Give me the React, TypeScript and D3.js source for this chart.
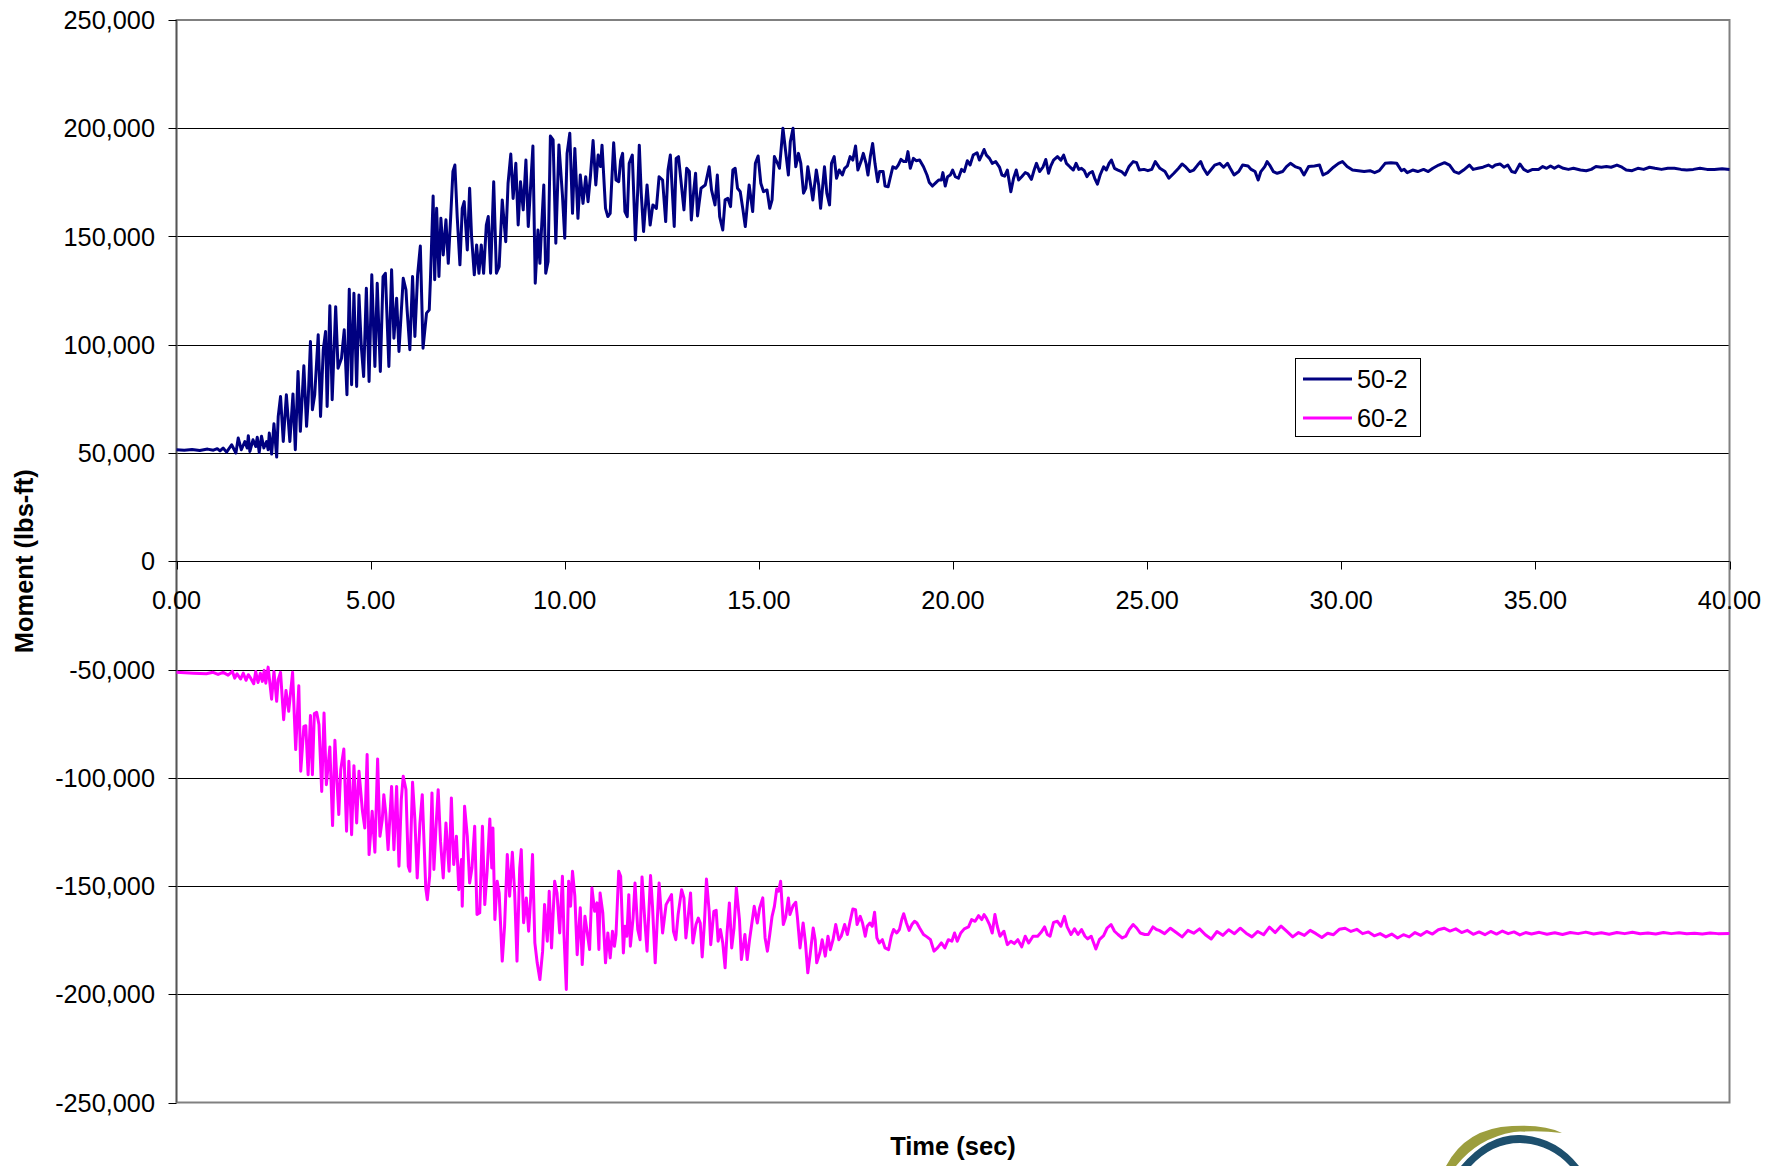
import React from "react";
import * as d3 from "d3";

// Time axis ticks (sec) and moment axis ticks (lbs-ft)
const xTicks: number[] = [0, 5, 10, 15, 20, 25, 30, 35, 40];
const yTicks: number[] = [-250000, -200000, -150000, -100000, -50000, 0, 50000, 100000, 150000, 200000, 250000];

const seriesNames: string[] = ["50-2", "60-2"];
const seriesColors: string[] = ["#000080", "#FF00FF"];

// [time (sec), moment (kip-ft)]
const points50: [number, number][] = [
  [0, 51.5], [0.2, 51.3], [0.4, 51.6], [0.6, 51.2], [0.8, 51.8], [0.95, 51.3], [1.05, 52.0], [1.12, 51.0],
  [1.2, 52.3], [1.29, 50.4], [1.42, 53.8], [1.53, 50.0], [1.59, 56.9], [1.67, 51.5], [1.76, 55.3], [1.82, 52.3],
  [1.85, 58.0], [1.89, 50.7], [1.97, 56.1], [2.04, 53.0], [2.08, 57.3], [2.13, 50.3], [2.19, 57.7], [2.25, 52.3],
  [2.32, 55.3], [2.36, 51.5], [2.39, 59.2], [2.45, 49.5], [2.51, 63.5], [2.58, 48.1], [2.62, 66.9], [2.68, 76.1],
  [2.75, 55.3], [2.83, 76.9], [2.92, 55.3], [3.0, 77.3], [3.06, 51.5], [3.13, 87.6], [3.19, 60.0], [3.28, 90.3],
  [3.35, 62.3], [3.39, 73.8], [3.45, 101.5], [3.5, 70.0], [3.56, 76.9], [3.65, 104.6], [3.71, 66.9], [3.78, 97.7],
  [3.84, 106.1], [3.88, 71.5], [3.95, 118.0], [4.01, 74.6], [4.1, 117.6], [4.16, 89.2], [4.25, 93.8], [4.32, 106.9],
  [4.39, 76.9], [4.45, 125.6], [4.51, 81.5], [4.57, 123.8], [4.64, 80.7], [4.7, 123.0], [4.76, 99.2], [4.82, 85.3],
  [4.89, 126.1], [4.96, 83.0], [5.03, 132.3], [5.11, 90.0], [5.17, 128.4], [5.25, 87.7], [5.32, 131.5], [5.38, 133.0],
  [5.47, 90.0], [5.54, 134.6], [5.6, 103.0], [5.67, 121.5], [5.73, 96.9], [5.84, 130.7], [5.91, 125.4], [5.94, 116.1],
  [6.01, 97.7], [6.08, 131.5], [6.14, 103.8], [6.21, 132.3], [6.28, 145.6], [6.35, 98.4], [6.44, 114.6], [6.51, 116.1],
  [6.54, 130.0], [6.61, 168.7], [6.65, 130.0], [6.7, 163.0], [6.76, 131.5], [6.81, 158.4], [6.87, 141.5], [6.94, 157.7],
  [7.0, 137.6], [7.06, 158.4], [7.12, 180.0], [7.17, 183.0], [7.23, 159.2], [7.3, 136.9], [7.36, 163.0], [7.41, 166.1],
  [7.49, 143.8], [7.55, 172.3], [7.6, 150.0], [7.67, 132.3], [7.73, 146.1], [7.79, 133.0], [7.85, 146.1], [7.91, 133.0],
  [7.98, 155.3], [8.03, 159.2], [8.09, 133.0], [8.17, 175.3], [8.24, 133.0], [8.31, 136.1], [8.39, 166.9], [8.48, 147.6],
  [8.54, 174.6], [8.61, 188.1], [8.67, 167.6], [8.74, 183.8], [8.8, 155.3], [8.86, 175.3], [8.93, 162.3], [9.0, 185.3],
  [9.06, 154.6], [9.12, 173.0], [9.18, 191.8], [9.24, 128.4], [9.31, 153.0], [9.36, 137.6], [9.4, 153.0], [9.46, 173.8],
  [9.51, 133.0], [9.57, 138.4], [9.63, 196.4], [9.7, 194.6], [9.77, 146.9], [9.85, 192.3], [9.94, 169.2], [10.0, 149.2],
  [10.06, 188.4], [10.13, 197.7], [10.2, 160.7], [10.26, 190.7], [10.34, 158.4], [10.4, 178.4], [10.47, 165.3], [10.54, 177.6],
  [10.6, 166.1], [10.66, 177.6], [10.73, 194.3], [10.8, 173.8], [10.86, 187.6], [10.92, 182.3],
  [10.96, 192.2], [11.05, 163.0], [11.11, 159.2], [11.17, 160.7], [11.26, 193.3], [11.32, 176.1], [11.39, 175.3], [11.44, 185.3],
  [11.49, 188.4], [11.55, 161.5], [11.61, 159.2], [11.66, 183.8], [11.74, 187.6], [11.82, 148.4], [11.88, 171.5], [11.92, 192.2],
  [11.97, 170.0], [12.03, 152.3], [12.12, 173.8], [12.2, 155.3], [12.27, 164.6], [12.36, 163.0], [12.43, 177.6], [12.52, 176.1],
  [12.6, 156.9], [12.66, 180.7], [12.72, 187.6], [12.82, 154.6], [12.87, 186.1], [12.93, 186.9], [13.07, 162.3], [13.14, 181.5],
  [13.21, 180.0], [13.26, 157.6], [13.32, 170.7], [13.37, 179.2], [13.42, 159.5], [13.51, 172.3], [13.62, 173.8], [13.72, 182.2],
  [13.78, 171.5], [13.87, 164.6], [13.93, 178.4], [13.99, 159.2], [14.07, 153.0], [14.13, 166.9], [14.2, 167.6], [14.27, 163.8],
  [14.33, 180.7], [14.39, 181.5], [14.45, 172.3], [14.52, 170.7], [14.59, 162.3], [14.65, 154.6], [14.75, 173.8], [14.84, 161.5],
  [14.91, 183.8], [14.98, 187.2], [15.05, 174.6], [15.12, 170.7], [15.21, 171.5], [15.28, 163.0], [15.34, 166.9], [15.4, 186.9],
  [15.48, 183.8], [15.53, 181.5], [15.62, 200.0], [15.69, 189.2], [15.76, 178.4], [15.81, 193.8], [15.88, 200.0], [15.95, 182.2],
  [16.02, 188.4], [16.08, 183.8], [16.15, 170.0], [16.21, 172.3], [16.26, 182.2], [16.34, 173.0], [16.39, 166.9], [16.48, 180.7],
  [16.54, 173.8], [16.59, 163.0], [16.69, 182.2], [16.75, 170.0], [16.82, 164.6], [16.87, 183.8], [16.94, 186.9], [17.0, 176.9],
  [17.07, 180.7], [17.15, 178.4], [17.21, 181.5], [17.28, 182.6], [17.35, 186.9], [17.42, 185.3], [17.49, 191.8], [17.55, 180.7],
  [17.63, 184.6], [17.69, 188.4], [17.76, 183.8], [17.81, 178.4], [17.87, 186.9], [17.93, 193.0], [17.99, 183.8], [18.06, 175.3],
  [18.11, 180.0], [18.2, 180.0], [18.25, 173.3], [18.33, 173.0], [18.38, 176.9], [18.45, 182.2], [18.53, 181.5], [18.59, 183.0],
  [18.66, 185.6], [18.73, 184.6], [18.79, 184.6], [18.84, 189.2], [18.9, 181.5], [18.98, 186.1], [19.05, 185.0], [19.14, 185.3],
  [19.24, 182.2], [19.33, 178.4], [19.39, 174.9], [19.47, 173.3], [19.56, 174.9], [19.63, 176.1], [19.7, 176.1], [19.74, 179.5],
  [19.8, 173.3], [19.86, 177.6], [19.93, 178.4], [19.99, 180.7], [20.06, 177.6], [20.14, 176.9], [20.22, 181.0], [20.29, 180.0],
  [20.37, 185.0], [20.44, 183.0], [20.52, 187.6], [20.62, 188.7], [20.68, 185.3], [20.74, 187.6], [20.8, 190.2], [20.86, 187.6],
  [20.94, 186.1], [21.01, 183.8], [21.1, 184.6], [21.2, 181.9], [21.26, 178.4], [21.33, 177.9], [21.4, 180.7], [21.49, 170.7],
  [21.56, 176.9], [21.63, 180.7], [21.69, 176.1], [21.77, 177.6], [21.86, 179.5], [21.93, 178.9], [22.02, 176.4], [22.09, 180.7],
  [22.15, 183.8], [22.23, 180.0], [22.32, 182.2], [22.39, 185.6], [22.46, 179.2], [22.52, 182.6], [22.59, 185.3], [22.69, 186.9],
  [22.78, 185.3], [22.85, 187.6], [22.92, 183.8], [23.01, 182.2], [23.1, 180.7], [23.17, 183.8], [23.24, 181.0], [23.31, 181.5],
  [23.38, 180.4], [23.45, 177.6], [23.51, 179.2], [23.59, 180.0], [23.65, 176.9], [23.72, 174.2], [23.79, 178.4], [23.88, 182.2],
  [23.95, 180.7], [24.02, 183.8], [24.08, 185.3], [24.16, 181.5], [24.25, 180.7], [24.34, 180.0], [24.43, 178.4], [24.53, 182.2],
  [24.64, 184.6], [24.73, 184.1], [24.8, 180.7],
  [24.92, 181.0], [25.02, 180.4], [25.12, 181.0], [25.21, 184.6], [25.33, 181.5], [25.46, 180.0], [25.56, 176.9], [25.69, 179.2],
  [25.81, 181.5], [25.9, 183.5], [26.0, 182.0], [26.1, 180.0], [26.2, 180.7], [26.3, 183.0], [26.38, 184.6], [26.45, 181.5],
  [26.55, 178.7], [26.64, 180.7], [26.74, 183.0], [26.87, 183.8], [26.97, 182.0], [27.07, 183.8], [27.14, 181.5], [27.24, 178.4],
  [27.36, 180.0], [27.46, 183.0], [27.6, 182.6], [27.68, 181.0], [27.78, 180.0], [27.86, 176.1], [27.93, 180.0], [28.03, 182.3],
  [28.09, 184.6], [28.17, 182.6], [28.25, 180.0], [28.35, 179.2], [28.49, 180.0], [28.59, 182.3], [28.69, 183.8], [28.81, 182.3],
  [28.94, 181.5], [29.04, 178.4], [29.16, 182.3], [29.31, 182.6], [29.44, 183.0], [29.53, 178.4], [29.65, 179.5], [29.8, 182.0],
  [29.93, 183.8], [30.03, 184.6], [30.15, 182.3], [30.29, 180.7], [30.44, 180.4], [30.59, 180.0], [30.74, 180.4], [30.86, 179.5],
  [30.98, 180.4], [31.13, 183.8], [31.28, 184.1], [31.43, 183.8], [31.55, 180.4], [31.62, 181.0], [31.7, 179.5], [31.84, 180.7],
  [31.97, 180.0], [32.12, 181.0], [32.24, 180.0], [32.36, 181.5], [32.51, 183.0], [32.66, 184.1], [32.79, 183.0], [32.91, 180.0],
  [33.03, 179.2], [33.15, 180.7], [33.3, 183.0], [33.4, 181.0], [33.52, 181.5], [33.65, 182.0], [33.79, 183.0], [33.89, 182.0],
  [33.97, 183.0], [34.09, 183.5], [34.19, 182.0], [34.29, 183.0], [34.39, 180.0], [34.48, 179.5], [34.6, 183.5], [34.7, 181.0],
  [34.8, 180.0], [34.93, 181.0], [35.08, 181.0], [35.19, 182.3], [35.29, 181.5], [35.39, 182.6], [35.49, 181.5], [35.59, 182.6],
  [35.72, 181.5], [35.85, 181.0], [35.98, 181.5], [36.16, 180.7], [36.31, 180.4], [36.44, 181.0], [36.56, 182.3], [36.7, 182.0],
  [36.83, 182.3], [36.95, 182.0], [37.1, 183.0], [37.23, 182.0], [37.34, 180.7], [37.49, 180.4], [37.64, 181.5], [37.79, 181.0],
  [37.94, 182.0], [38.08, 181.5], [38.25, 181.0], [38.41, 181.5], [38.58, 181.5], [38.75, 181.0], [38.9, 180.7], [39.07, 181.0],
  [39.24, 181.5], [39.42, 181.0], [39.61, 181.0], [39.81, 181.3], [40.0, 181.0],
];

const points60: [number, number][] = [
  [0, -51.3], [0.43, -51.7], [0.77, -52.0], [0.94, -51.3], [1.07, -52.3], [1.2, -51.3], [1.33, -52.6], [1.44, -50.9],
  [1.5, -54.0], [1.56, -52.0], [1.65, -54.4], [1.72, -51.7], [1.79, -55.0], [1.85, -52.4], [1.91, -54.0], [1.99, -56.6],
  [2.04, -50.9], [2.1, -56.0], [2.16, -51.7], [2.21, -55.5], [2.26, -50.4], [2.3, -56.3], [2.36, -48.9], [2.45, -63.7],
  [2.51, -50.9], [2.58, -64.7], [2.62, -54.7], [2.68, -51.3], [2.76, -73.2], [2.82, -59.7], [2.89, -69.3], [2.99, -51.3],
  [3.07, -87.0], [3.15, -57.5], [3.2, -97.0], [3.28, -76.3], [3.33, -76.0], [3.39, -98.6], [3.45, -71.3], [3.5, -98.6],
  [3.55, -70.4], [3.61, -69.8], [3.67, -75.5], [3.74, -106.3], [3.8, -70.1], [3.86, -103.2], [3.95, -85.8], [4.02, -122.1],
  [4.08, -82.7], [4.12, -97.0], [4.18, -117.0], [4.23, -96.3], [4.31, -86.7], [4.38, -124.7], [4.44, -92.4], [4.51, -126.3],
  [4.57, -94.4], [4.64, -120.9], [4.7, -97.0], [4.79, -115.5], [4.85, -123.2], [4.91, -89.3], [4.96, -135.5], [5.04, -115.5],
  [5.11, -134.4], [5.18, -91.3], [5.24, -127.0], [5.3, -119.3], [5.34, -107.8], [5.39, -116.3], [5.45, -133.2], [5.54, -104.0],
  [5.6, -133.2], [5.67, -104.0], [5.73, -140.9], [5.79, -110.1], [5.84, -99.3], [5.91, -105.5], [5.97, -140.9], [6.01, -143.2],
  [6.08, -102.1], [6.14, -119.3], [6.2, -146.3], [6.27, -120.9], [6.33, -107.8], [6.38, -131.7], [6.42, -150.9], [6.46, -156.3],
  [6.52, -145.5], [6.58, -107.0], [6.63, -142.4], [6.68, -124.0], [6.74, -105.5], [6.8, -129.3], [6.87, -146.3], [6.94, -120.9],
  [7.02, -143.2], [7.08, -109.3], [7.14, -140.1], [7.21, -127.0], [7.27, -151.7], [7.34, -137.8], [7.36, -159.3], [7.42, -113.2],
  [7.49, -127.0], [7.55, -148.6], [7.61, -141.7], [7.68, -122.4], [7.74, -163.2], [7.81, -162.4], [7.88, -122.4], [7.94, -158.6],
  [8.0, -143.2], [8.07, -119.0], [8.12, -141.7], [8.15, -123.2], [8.2, -165.5], [8.26, -147.8], [8.31, -153.2], [8.39, -184.7],
  [8.45, -168.6], [8.52, -135.5], [8.58, -154.7], [8.65, -134.4], [8.71, -153.2], [8.77, -184.7], [8.84, -141.7], [8.88, -133.2],
  [8.94, -167.0], [9.01, -155.5], [9.07, -170.9], [9.12, -156.3], [9.17, -135.5], [9.23, -176.3], [9.29, -185.5], [9.36, -193.2],
  [9.43, -180.1], [9.48, -158.6], [9.55, -175.5], [9.6, -152.4], [9.66, -178.6], [9.74, -147.8], [9.8, -153.2], [9.87, -171.7],
  [9.94, -145.5], [9.98, -172.4], [10.04, -197.8], [10.1, -147.8], [10.15, -159.3], [10.2, -143.2], [10.26, -154.7], [10.32, -181.7],
  [10.4, -160.1], [10.45, -186.3], [10.52, -164.0], [10.58, -171.7], [10.64, -179.3], [10.7, -150.9], [10.77, -161.7], [10.83, -157.8],
  [10.88, -179.3],
  [10.91, -153.2], [10.98, -162.4], [11.05, -185.5], [11.11, -171.7], [11.17, -183.2], [11.23, -170.9], [11.28, -177.8], [11.32, -172.4],
  [11.39, -143.2], [11.44, -145.5], [11.51, -180.9], [11.55, -168.6], [11.6, -173.2], [11.65, -154.0], [11.69, -177.8], [11.76, -164.8],
  [11.81, -148.6], [11.88, -170.1], [11.94, -174.8], [11.99, -145.8], [12.06, -165.5], [12.12, -180.1], [12.21, -145.2], [12.26, -159.4],
  [12.33, -185.5], [12.43, -148.6], [12.52, -171.7], [12.61, -158.6], [12.69, -156.0], [12.75, -154.0], [12.8, -170.9], [12.86, -174.8],
  [12.92, -163.2], [13.01, -151.7], [13.07, -155.5], [13.12, -174.0], [13.18, -164.0], [13.24, -153.2], [13.3, -176.3], [13.38, -167.8],
  [13.44, -164.8], [13.49, -167.1], [13.54, -182.8], [13.6, -166.3], [13.65, -146.8], [13.72, -161.7], [13.76, -177.1], [13.84, -161.7],
  [13.9, -161.2], [13.95, -175.5], [14.01, -170.1], [14.07, -176.3], [14.13, -187.8], [14.18, -171.7], [14.24, -157.8], [14.3, -178.6],
  [14.36, -169.4], [14.42, -150.9], [14.5, -165.5], [14.55, -184.0], [14.64, -172.4], [14.7, -184.0], [14.76, -174.8], [14.82, -167.1],
  [14.88, -159.4], [14.96, -167.1], [15.02, -160.1], [15.1, -155.5], [15.16, -174.0], [15.22, -180.1], [15.28, -172.4], [15.34, -164.0],
  [15.4, -159.4], [15.46, -151.4], [15.51, -152.4], [15.56, -147.8], [15.63, -167.8], [15.69, -164.3], [15.76, -155.5], [15.8, -163.2],
  [15.88, -159.1], [15.95, -157.5], [15.99, -164.0], [16.06, -178.6], [16.14, -167.1], [16.2, -176.3], [16.26, -190.1], [16.32, -181.7],
  [16.4, -169.4], [16.45, -174.8], [16.49, -185.5], [16.57, -180.9], [16.63, -174.8], [16.71, -182.4], [16.78, -173.2], [16.84, -179.4],
  [16.91, -174.8], [16.98, -167.8], [17.06, -174.8], [17.12, -173.2], [17.21, -167.8], [17.28, -172.4], [17.35, -166.3], [17.42, -160.6],
  [17.49, -160.9], [17.53, -167.8], [17.61, -164.0], [17.67, -167.1], [17.74, -173.2], [17.79, -168.6], [17.86, -167.1], [17.92, -168.6],
  [17.98, -162.1], [18.04, -174.0], [18.1, -176.3], [18.18, -174.8], [18.25, -178.6], [18.34, -179.4], [18.41, -173.2], [18.47, -170.1],
  [18.55, -171.7], [18.62, -170.1], [18.68, -165.5], [18.73, -162.8], [18.8, -167.1], [18.87, -170.5], [18.94, -167.8], [19.01, -166.3],
  [19.07, -167.1], [19.14, -169.4], [19.24, -172.4], [19.33, -173.5], [19.42, -174.8], [19.51, -180.1], [19.6, -178.6], [19.7, -176.3],
  [19.79, -178.6], [19.88, -174.8], [19.97, -175.5], [20.04, -171.7], [20.11, -175.5], [20.2, -171.7], [20.29, -169.8], [20.4, -168.9],
  [20.48, -165.5], [20.57, -166.3], [20.66, -163.7], [20.74, -165.5], [20.8, -163.2], [20.86, -164.8], [20.94, -167.8], [21.01, -171.7],
  [21.08, -163.2], [21.14, -168.6], [21.21, -173.2], [21.31, -170.9], [21.4, -177.1], [21.49, -175.5], [21.58, -176.6], [21.67, -174.8],
  [21.77, -178.1], [21.86, -173.2], [21.95, -176.3], [22.06, -173.2], [22.18, -173.2], [22.27, -171.4], [22.36, -168.9], [22.43, -172.4],
  [22.5, -173.2], [22.59, -166.8], [22.69, -166.3], [22.78, -168.6], [22.87, -164.0], [22.94, -168.9], [23.04, -172.4], [23.13, -169.8],
  [23.22, -172.4], [23.31, -170.1], [23.4, -173.2], [23.47, -174.4], [23.56, -173.2], [23.68, -179.1], [23.77, -174.8], [23.88, -172.9],
  [23.97, -169.4], [24.07, -167.8], [24.16, -170.9], [24.25, -172.4], [24.36, -174.0], [24.45, -173.2], [24.54, -170.1], [24.64, -167.8],
  [24.73, -169.4], [24.82, -171.7], [24.94, -172.4], [25.03, -172.4], [25.15, -168.9], [25.24, -170.1], [25.31, -170.5],
  [25.45, -172.0], [25.6, -169.5], [25.75, -171.5], [25.9, -173.5], [26.05, -170.5], [26.2, -171.8], [26.35, -169.8], [26.5, -172.5],
  [26.65, -174.5], [26.8, -171.0], [26.95, -172.8], [27.1, -170.2], [27.25, -172.0], [27.4, -169.5], [27.55, -171.8], [27.7, -173.5],
  [27.85, -171.0], [28.0, -172.5], [28.15, -169.0], [28.3, -171.5], [28.45, -168.5], [28.6, -171.0], [28.75, -173.5], [28.9, -171.5],
  [29.05, -172.8], [29.2, -170.5], [29.35, -172.0], [29.5, -173.8], [29.65, -171.8], [29.8, -172.5], [29.95, -170.0], [30.1, -169.5],
  [30.25, -171.0], [30.4, -170.0], [30.55, -172.0], [30.7, -171.2], [30.85, -173.0], [31.0, -172.0], [31.15, -173.5], [31.3, -172.2],
  [31.45, -174.0], [31.6, -172.5], [31.75, -173.5], [31.9, -171.5], [32.05, -172.8], [32.2, -171.0], [32.35, -172.2], [32.5, -170.2],
  [32.65, -169.5], [32.8, -170.8], [32.95, -169.8], [33.1, -171.5], [33.25, -170.5], [33.4, -172.3], [33.55, -171.2], [33.7, -172.5],
  [33.85, -171.0], [34.0, -172.2], [34.15, -170.8], [34.3, -172.0], [34.45, -171.2], [34.6, -172.6], [34.75, -171.5], [34.9, -172.2],
  [35.1, -171.4], [35.3, -172.3], [35.5, -171.6], [35.7, -172.4], [35.9, -171.5], [36.1, -172.0], [36.3, -171.3], [36.5, -172.2],
  [36.7, -171.6], [36.9, -172.3], [37.1, -171.5], [37.3, -172.0], [37.5, -171.4], [37.7, -172.1], [37.9, -171.7], [38.1, -172.2],
  [38.3, -171.5], [38.5, -172.0], [38.7, -171.6], [38.9, -172.1], [39.1, -171.8], [39.3, -172.2], [39.5, -171.7], [39.7, -172.0],
  [40.0, -171.9],
];

const FONT = "'Liberation Sans', Arial, Helvetica, sans-serif";

export default function App() {
  const W = 1783;
  const H = 1166;
  const left = 176.5;
  const right = 1729.5;
  const top = 20;
  const bottom = 1102.5;

  const x = d3.scaleLinear().domain([0, 40]).range([left, right]);
  const y = d3.scaleLinear().domain([-250000, 250000]).range([bottom, top]);
  const line = d3
    .line<[number, number]>()
    .x((d) => x(d[0]))
    .y((d) => y(d[1] * 1000));

  const fmtY = (v: number) => d3.format(",")(v).replace("\u2212", "-");
  const fmtX = d3.format(".2f");
  const y0 = Math.round(y(0)) + 0.5;

  const allSeries = [points50, points60];

  return (
    <svg
      width={W}
      height={H}
      style={{ position: "absolute", left: 0, top: 0, background: "#fff" }}
      fontFamily={FONT}
    >
      <rect x={0} y={0} width={W} height={H} fill="#fff" />
      {/* horizontal gridlines */}
      {yTicks
        .filter((t) => t !== 250000 && t !== -250000 && t !== 0)
        .map((t) => (
          <line key={"g" + t} x1={left} x2={right} y1={Math.round(y(t)) + 0.5} y2={Math.round(y(t)) + 0.5} stroke="#000" strokeWidth={1} />
        ))}
      {/* plot border */}
      <rect x={left} y={top} width={right - left} height={bottom - top} fill="none" stroke="#808080" strokeWidth={2} />
      {/* y axis line */}
      <line x1={left} x2={left} y1={top} y2={bottom} stroke="#555" strokeWidth={1.5} />
      {/* y ticks & labels */}
      {yTicks.map((t) => (
        <g key={"yt" + t}>
          <line x1={left - 8} x2={left} y1={Math.round(y(t)) + 0.5} y2={Math.round(y(t)) + 0.5} stroke="#000" strokeWidth={1} />
          <text x={155} y={y(t)} dy="0.36em" textAnchor="end" fontSize={25.3} fill="#000">
            {fmtY(t)}
          </text>
        </g>
      ))}
      {/* x axis at zero */}
      <line x1={left} x2={right} y1={y0} y2={y0} stroke="#000" strokeWidth={1} />
      {xTicks.map((t) => (
        <g key={"xt" + t}>
          <line x1={Math.round(x(t)) + 0.5} x2={Math.round(x(t)) + 0.5} y1={y0} y2={y0 + 8} stroke="#000" strokeWidth={1} />
          <text x={x(t)} y={y0 + 47} textAnchor="middle" fontSize={25.3} fill="#000">
            {fmtX(t)}
          </text>
        </g>
      ))}
      {/* series */}
      {allSeries.map((pts, i) => (
        <path key={"s" + i} d={line(pts) || ""} fill="none" stroke={seriesColors[i]} strokeWidth={3} strokeLinejoin="round" />
      ))}
      {/* legend */}
      <rect x={1295.5} y={358.5} width={125} height={78} fill="#fff" stroke="#000" strokeWidth={1} />
      {seriesNames.map((n, i) => (
        <g key={"lg" + i}>
          <line x1={1303} x2={1352} y1={379 + i * 39} y2={379 + i * 39} stroke={seriesColors[i]} strokeWidth={3} />
          <text x={1357} y={379 + i * 39} dy="0.36em" fontSize={25.3} fill="#000">
            {n}
          </text>
        </g>
      ))}
      {/* axis titles */}
      <text
        transform={`translate(33, ${(top + bottom) / 2}) rotate(-90)`}
        textAnchor="middle"
        fontSize={25.5}
        fontWeight="bold"
        fill="#000"
      >
        Moment (lbs-ft)
      </text>
      <text x={(left + right) / 2} y={1155} textAnchor="middle" fontSize={25.5} fontWeight="bold" fill="#000">
        Time (sec)
      </text>
      {/* logo fragment */}
      <path
        d="M1446,1166 Q1466,1128 1512,1126 Q1545,1124 1562,1133 Q1540,1130 1514,1132 Q1478,1138 1456,1166 Z"
        fill="#9c9e3e"
      />
      <path
        d="M1461,1166 Q1488,1134 1520,1135 Q1556,1137 1579,1166 L1570,1166 Q1550,1144 1520,1143 Q1492,1143 1471,1166 Z"
        fill="#1d4f6d"
      />
    </svg>
  );
}
